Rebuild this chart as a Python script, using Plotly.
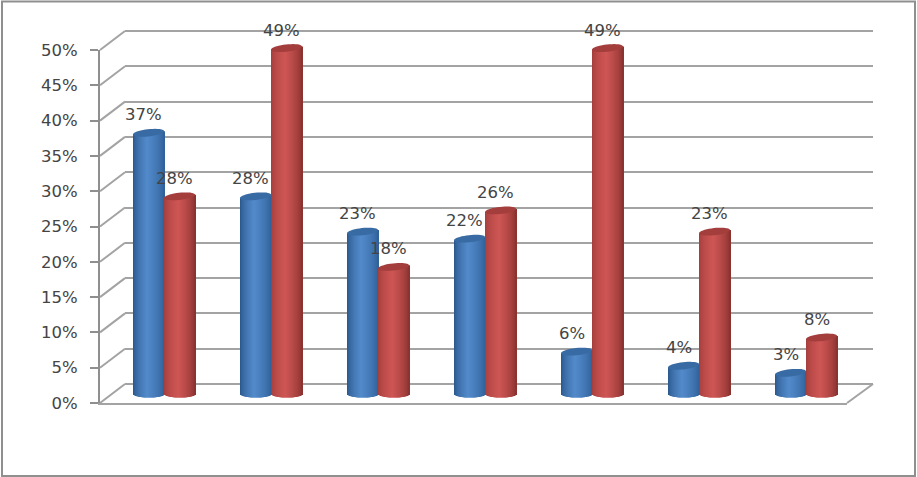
import numpy as np
import plotly.graph_objects as go

# values
group_index = [0, 1, 2, 3, 4, 5, 6]
blue_values = [37, 28, 23, 22, 6, 4, 3]
red_values = [28, 49, 18, 26, 49, 23, 8]
y_ticks = [0, 5, 10, 15, 20, 25, 30, 35, 40, 45, 50]
y_tick_labels = ["0%", "5%", "10%", "15%", "20%", "25%", "30%", "35%", "40%", "45%", "50%"]

W, H = 917, 477
GRID = "#a3a3a3"
AXIS = "#8f8f8f"
TEXT = "#444444"
FONT = "DejaVu Sans"
FONT_SIZE = 16.5

# pixel geometry of the fake 3d box
FRONT_L, FRONT_R = 100, 847
BACK_L, BACK_R = 125, 873
FRONT_Y0, FRONT_Y50 = 403, 50
BACK_Y0, BACK_Y50 = 384, 31
BAR_Y0, BAR_Y50 = 394, 41
PX_PER_PCT = (FRONT_Y0 - FRONT_Y50) / 50
GROUP_STEP = 107
FIRST_GROUP = 164
BAR_W = 31
RX, RY, TILT = 15.5, 3.6, 1.6


def xp(px):
    return px / W


def yp(px):
    return 1 - px / H


# bar subplot: x unit is one group, y unit is one percent
bar_xrange = [(FRONT_L - FIRST_GROUP) / GROUP_STEP, (FRONT_R + 30 - FIRST_GROUP) / GROUP_STEP]
bar_yrange = [-3, 52]
ry_u = RY / PX_PER_PCT
tilt_u = TILT / PX_PER_PCT
w_u = BAR_W / GROUP_STEP


def shade(dark_l, mid, dark_r, t):
    # t runs -1..1 across the cylinder, brightest a bit left of centre
    peak = -0.1
    if t < peak:
        a = ((t + 1) / (peak + 1)) ** 0.6
        c0, c1 = dark_l, mid
    else:
        a = ((1 - t) / (1 - peak)) ** 0.6
        c0, c1 = dark_r, mid
    rgb = [round(c0[i] + (c1[i] - c0[i]) * a) for i in range(3)]
    return "rgb(%d,%d,%d)" % tuple(rgb)


fig = go.Figure()

# wall gridlines live on the first subplot so they stay under the bars
fig.add_trace(go.Scatter(x=[0], y=[0], xaxis="x", yaxis="y", mode="markers",
                         marker=dict(opacity=0), hoverinfo="skip", showlegend=False))


def add_cylinders(values, side, colors):
    # one narrow bar per pixel column, to get the cylinder shading
    n = BAR_W
    for k in range(n):
        left = k / n
        t = (left + 0.5 / n) * 2 - 1
        bottom = -ry_u * np.sqrt(1 - t * t)
        tops = [v + tilt_u * t for v in values]
        offset = (side + left) * w_u
        fig.add_trace(go.Bar(
            x=group_index, y=[top - bottom for top in tops], base=bottom,
            width=1.6 / GROUP_STEP, offset=offset,
            marker=dict(color=shade(colors[0], colors[1], colors[2], t), line=dict(width=0)),
            xaxis="x2", yaxis="y2", hoverinfo="skip", showlegend=False))


blue_cols = ((38, 82, 134), (82, 138, 202), (44, 92, 148))
red_cols = ((160, 60, 58), (206, 86, 84), (130, 46, 44))
add_cylinders(blue_values, -1, blue_cols)
add_cylinders(red_values, 0, red_cols)

# front axis with the tick labels
fig.add_trace(go.Scatter(x=[0], y=[0], xaxis="x3", yaxis="y3", mode="markers",
                         marker=dict(opacity=0), hoverinfo="skip", showlegend=False))

shapes = []


def line_px(x0, y0, x1, y1, color=GRID, width=2):
    shapes.append(dict(type="line", xref="paper", yref="paper", x0=xp(x0), y0=yp(y0),
                       x1=xp(x1), y1=yp(y1), line=dict(color=color, width=width), layer="below"))


# slanted side wall lines, one per tick
for tick in y_ticks:
    line_px(FRONT_L, FRONT_Y0 - tick * PX_PER_PCT, BACK_L, BACK_Y0 - tick * PX_PER_PCT)
# right edge of the floor
line_px(FRONT_R, FRONT_Y0, BACK_R, BACK_Y0)

# chart frame
shapes.append(dict(type="rect", xref="paper", yref="paper", x0=xp(2), y0=yp(476), x1=xp(915), y1=yp(1.5),
                   line=dict(color=AXIS, width=2), fillcolor="rgba(0,0,0,0)", layer="below"))


def top_ellipse(center, value, color):
    th = np.linspace(0, 2 * np.pi, 40)
    xs = center + (BAR_W / 2 / GROUP_STEP) * np.cos(th)
    ys = value + ry_u * np.sin(th) + tilt_u * np.cos(th)
    pts = ["%s%.4f,%.4f" % ("M" if i == 0 else "L", a, b) for i, (a, b) in enumerate(zip(xs, ys))]
    shapes.append(dict(type="path", xref="x2", yref="y2", path=" ".join(pts) + " Z",
                       fillcolor=color, line=dict(width=0), layer="above"))


annotations = []


def add_labels(values, side):
    for i, v in zip(group_index, values):
        center = i + side * w_u / 2
        annotations.append(dict(text="%d%%" % v, x=center, y=v, xref="x2", yref="y2",
                                xshift=-5, yshift=18, showarrow=False,
                                font=dict(family=FONT, size=FONT_SIZE, color=TEXT)))


for i, v in zip(group_index, blue_values):
    top_ellipse(i - w_u / 2, v, "#386aa3")
for i, v in zip(group_index, red_values):
    top_ellipse(i + w_u / 2, v, "#a33e3c")
add_labels(blue_values, -1)
add_labels(red_values, 1)

hidden = dict(visible=False, fixedrange=True)
fig.update_layout(
    width=W, height=H, autosize=False,
    margin=dict(l=0, r=0, t=0, b=0, pad=0, autoexpand=False),
    paper_bgcolor="white", plot_bgcolor="rgba(0,0,0,0)",
    barmode="overlay", showlegend=False,
    # back wall, range padded by 1 so the 0 and 50 gridlines are kept
    xaxis=dict(domain=[xp(BACK_L), xp(BACK_R)], range=[0, 1], anchor="y", showgrid=False,
               zeroline=False, showticklabels=False, ticks="", showline=False),
    yaxis=dict(domain=[yp(BACK_Y0 + PX_PER_PCT), yp(BACK_Y50 - PX_PER_PCT)], range=[-1, 51], anchor="x",
               tickvals=y_ticks, showgrid=True, gridcolor=GRID, gridwidth=2, zeroline=False,
               showticklabels=False, ticks="", showline=False),
    # bars
    xaxis2=dict(domain=[xp(FRONT_L), xp(FRONT_R + 30)], range=bar_xrange, anchor="y2", **hidden),
    yaxis2=dict(domain=[yp(BAR_Y0 + 3 * PX_PER_PCT), yp(BAR_Y50 - 2 * PX_PER_PCT)], range=bar_yrange,
                anchor="x2", **hidden),
    # front axis
    xaxis3=dict(domain=[xp(FRONT_L), xp(FRONT_R)], range=[0, 1], anchor="y3", showgrid=False,
                zeroline=False, showticklabels=False, ticks="", showline=True,
                linecolor=GRID, linewidth=2),
    yaxis3=dict(domain=[yp(FRONT_Y0), yp(FRONT_Y50)], range=[0, 50], anchor="x3", tickvals=y_ticks,
                ticktext=y_tick_labels, showgrid=False, zeroline=False, showline=True, linecolor=AXIS,
                linewidth=2, ticks="outside", ticklen=8, tickcolor=AXIS, tickwidth=2,
                ticklabelstandoff=9, tickfont=dict(family=FONT, size=FONT_SIZE, color=TEXT)),
    shapes=shapes, annotations=annotations,
)

fig.write_html("out.html", config=dict(displayModeBar=False),
               post_script="document.body.style.margin='0';document.body.style.overflow='hidden';")
